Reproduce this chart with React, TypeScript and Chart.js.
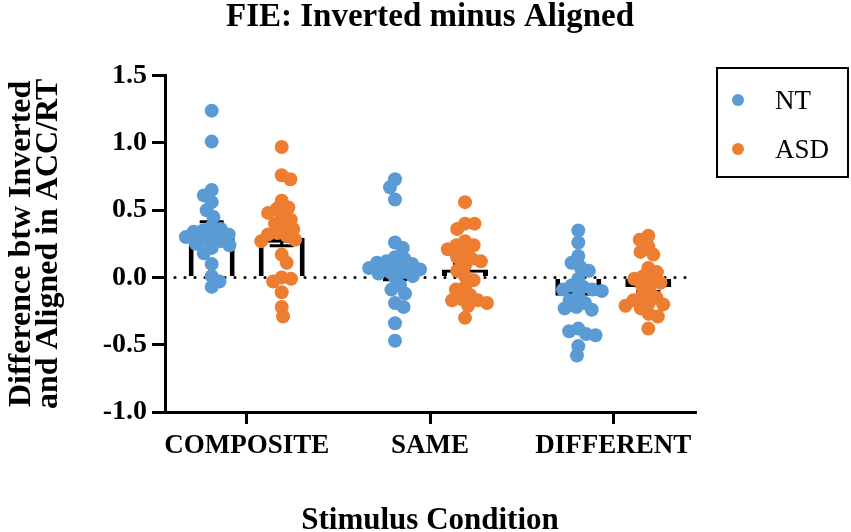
import { Chart, registerables } from 'chart.js';
import React, { useEffect, useRef } from 'react';

Chart.register(...registerables);

const categories = ['COMPOSITE', 'SAME', 'DIFFERENT'];
const groups = ['NT', 'ASD'];
const yTicks = [-1.0, -0.5, 0.0, 0.5, 1.0, 1.5];

// group means and SEM
const ntMeans = [0.35, 0.033, -0.135];
const ntSem = [0.065, 0.05, 0.045];
const asdMeans = [0.295, 0.06, -0.07];
const asdSem = [0.06, 0.045, 0.035];

// individual participants
const ntComposite = [1.24, 1.01, 0.65, 0.61, 0.56, 0.5, 0.45, 0.38, 0.36, 0.35, 0.34, 0.32, 0.31, 0.3, 0.28, 0.27, 0.25, 0.24, 0.22, 0.18, 0.1, 0.01, -0.03, -0.07];
const asdComposite = [0.97, 0.76, 0.73, 0.57, 0.52, 0.51, 0.48, 0.45, 0.43, 0.4, 0.38, 0.36, 0.33, 0.32, 0.31, 0.28, 0.27, 0.17, 0.11, 0.0, -0.01, -0.03, -0.11, -0.22, -0.29];
const ntSame = [0.73, 0.67, 0.58, 0.26, 0.22, 0.15, 0.14, 0.12, 0.11, 0.1, 0.08, 0.07, 0.06, 0.05, 0.04, 0.03, 0.01, 0.0, -0.06, -0.09, -0.12, -0.19, -0.22, -0.34, -0.47];
const asdSame = [0.56, 0.4, 0.4, 0.36, 0.27, 0.24, 0.24, 0.21, 0.19, 0.15, 0.14, 0.12, 0.09, 0.05, 0.01, -0.02, -0.07, -0.09, -0.13, -0.16, -0.17, -0.17, -0.19, -0.21, -0.3];
const ntDifferent = [0.35, 0.26, 0.16, 0.11, 0.08, 0.05, -0.01, -0.06, -0.07, -0.09, -0.09, -0.1, -0.14, -0.17, -0.19, -0.22, -0.23, -0.24, -0.38, -0.4, -0.42, -0.43, -0.51, -0.58];
const asdDifferent = [0.31, 0.28, 0.23, 0.19, 0.17, 0.07, 0.04, 0.01, -0.01, -0.03, -0.04, -0.06, -0.1, -0.14, -0.15, -0.17, -0.19, -0.2, -0.21, -0.23, -0.27, -0.29, -0.38];

const ntPoints = [ntComposite, ntSame, ntDifferent];
const asdPoints = [asdComposite, asdSame, asdDifferent];

const BLUE = '#5b9bd5';
const ORANGE = '#ed7d31';
const FONT = "'Liberation Serif', 'Times New Roman', serif";

// approximate plot scale, used only to spread the dots into a swarm
const PX_PER_X = 183.3;
const PX_PER_Y = 134.4;
const GAP = 9.5;
const SHIFT = 0.191;

function swarm(values: number[], center: number) {
  const placed: { px: number; py: number }[] = [];
  const out: { x: number; y: number }[] = new Array(values.length);
  const order = values.map((_, i) => i).sort((a, b) => values[b] - values[a]);
  order.forEach((i, k) => {
    const py = values[i] * PX_PER_Y;
    const cands = [0];
    placed.forEach((p) => {
      const dy = Math.abs(p.py - py);
      if (dy < GAP) {
        const dx = Math.sqrt(GAP * GAP - dy * dy);
        cands.push(p.px - dx, p.px + dx);
      }
    });
    const side = k % 2 === 0 ? 1 : -1;
    cands.sort((a, b) => Math.abs(a) - Math.abs(b) || side * (b - a));
    const px = cands.find((c) => placed.every((p) => (p.px - c) ** 2 + (p.py - py) ** 2 >= GAP * GAP - 0.01)) ?? 0;
    placed.push({ px, py });
    out[i] = { x: center + px / PX_PER_X, y: values[i] };
  });
  return out;
}

// zero reference line and SEM bars, drawn after the bars but under the dots
const barExtras = {
  id: 'barExtras',
  afterDatasetDraw(chart: any, args: any) {
    if (args.index !== 0) return;
    const { ctx, chartArea } = chart;
    const yScale = chart.scales.y;
    const y0 = yScale.getPixelForValue(0);
    ctx.save();
    ctx.strokeStyle = '#000';
    ctx.lineWidth = 3.2;
    ctx.lineCap = 'round';
    ctx.setLineDash([0, 10]);
    ctx.beginPath();
    ctx.moveTo(chartArea.left + 10, y0);
    ctx.lineTo(chartArea.right, y0);
    ctx.stroke();

    ctx.setLineDash([]);
    ctx.lineCap = 'butt';
    ctx.lineWidth = 3;
    const sems = [ntSem, asdSem];
    const means = [ntMeans, asdMeans];
    [0, 1].forEach((d) => {
      chart.getDatasetMeta(d).data.forEach((bar: any, i: number) => {
        const hi = yScale.getPixelForValue(means[d][i] + sems[d][i]);
        const lo = yScale.getPixelForValue(means[d][i] - sems[d][i]);
        ctx.beginPath();
        ctx.moveTo(bar.x, hi);
        ctx.lineTo(bar.x, lo);
        ctx.moveTo(bar.x - 12, hi);
        ctx.lineTo(bar.x + 12, hi);
        ctx.moveTo(bar.x - 12, lo);
        ctx.lineTo(bar.x + 12, lo);
        ctx.stroke();
      });
    });
    ctx.restore();
  },
};

const legendBox = {
  id: 'legendBox',
  afterDraw(chart: any) {
    const { ctx } = chart;
    ctx.save();
    ctx.strokeStyle = '#000';
    ctx.lineWidth = 2;
    ctx.strokeRect(717, 68, 131, 109);
    ctx.font = `27px ${FONT}`;
    ctx.textBaseline = 'alphabetic';
    ctx.textAlign = 'left';
    [BLUE, ORANGE].forEach((c, i) => {
      const cy = 100 + i * 49;
      ctx.fillStyle = c;
      ctx.beginPath();
      ctx.arc(738, cy, 6, 0, Math.PI * 2);
      ctx.fill();
      ctx.fillStyle = '#000';
      ctx.fillText(groups[i], 775, cy + 9);
    });
    ctx.restore();
  },
};

export default function App() {
  const canvasRef = useRef<HTMLCanvasElement>(null);

  useEffect(() => {
    document.body.style.margin = '0';
    const barData = (means: number[]) => means.map((m, i) => ({ x: i, y: m }));
    const dots = (sets: number[][], shift: number) =>
      sets.flatMap((vals, i) => swarm(vals, i + shift));

    const chart = new Chart(canvasRef.current as HTMLCanvasElement, {
      type: 'bar',
      data: {
        datasets: [
          {
            label: 'NT mean',
            data: barData(ntMeans),
            backgroundColor: '#fff',
            borderColor: '#000',
            borderWidth: 5,
            order: 2,
          },
          {
            label: 'ASD mean',
            data: barData(asdMeans),
            backgroundColor: '#fff',
            borderColor: '#000',
            borderWidth: 5,
            order: 2,
          },
          {
            type: 'scatter',
            label: 'NT',
            data: dots(ntPoints, -SHIFT),
            backgroundColor: BLUE,
            pointRadius: 7,
            pointBorderWidth: 0,
            order: 1,
          },
          {
            type: 'scatter',
            label: 'ASD',
            data: dots(asdPoints, SHIFT),
            backgroundColor: ORANGE,
            pointRadius: 7,
            pointBorderWidth: 0,
            order: 1,
          },
        ] as any,
      },
      options: {
        responsive: false,
        animation: false,
        events: [],
        categoryPercentage: 0.764,
        barPercentage: 0.657,
        layout: { padding: { top: 0, right: 156, bottom: 0, left: 0 } },
        plugins: {
          legend: { display: false },
          tooltip: { enabled: false },
          title: {
            display: true,
            text: 'FIE: Inverted minus Aligned',
            fullSize: false,
            color: '#000',
            font: { family: FONT, size: 33, weight: 'bold', lineHeight: 0.9 },
            padding: { top: 3, bottom: 43 },
          },
        },
        scales: {
          x: {
            type: 'linear',
            min: -0.4457,
            max: 2.4457,
            offset: false,
            afterBuildTicks: (scale: any) => {
              scale.ticks = categories.map((_, i) => ({ value: i }));
            },
            afterFit: (scale: any) => {
              scale.height = 120;
            },
            grid: { drawOnChartArea: false, offset: false, tickLength: 12, color: '#000', lineWidth: 3 },
            border: { display: true, color: '#000', width: 3 },
            ticks: {
              autoSkip: false,
              maxRotation: 0,
              padding: 6,
              color: '#000',
              font: { family: FONT, size: 27, weight: 'bold' },
              callback: (_v: any, i: number) => categories[i],
            },
            title: {
              display: true,
              text: 'Stimulus Condition',
              color: '#000',
              font: { family: FONT, size: 31, weight: 'bold', lineHeight: 0.74 },
              padding: { top: 0, bottom: 0 },
            },
          },
          y: {
            min: -1,
            max: 1.5,
            afterBuildTicks: (scale: any) => {
              scale.ticks = yTicks.map((v) => ({ value: v }));
            },
            afterFit: (scale: any) => {
              scale.width = 165;
            },
            grid: { drawOnChartArea: false, tickLength: 13, color: '#000', lineWidth: 3 },
            border: { display: true, color: '#000', width: 3 },
            ticks: {
              padding: 5,
              color: '#000',
              font: { family: FONT, size: 28, weight: 'bold' },
              callback: (v: any) => Number(v).toFixed(1),
            },
            title: {
              display: true,
              text: ['Difference btw Inverted', 'and Aligned in ACC/RT'],
              color: '#000',
              font: { family: FONT, size: 32, weight: 'bold', lineHeight: 0.85 },
              padding: { top: 8, bottom: 0 },
            },
          },
        },
      } as any,
      plugins: [barExtras, legendBox],
    });
    return () => {
      chart.destroy();
    };
  }, []);

  return (
    <div style={{ width: 851, height: 532 }}>
      <canvas ref={canvasRef} width={851} height={532} />
    </div>
  );
}
